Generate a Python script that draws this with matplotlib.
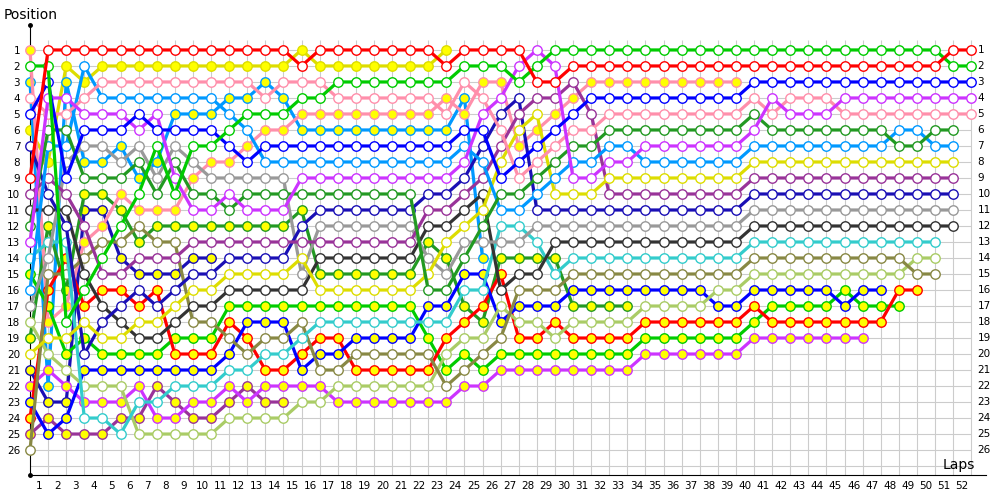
import matplotlib
matplotlib.use("Agg")
import matplotlib.pyplot as plt

# position of each driver after every lap (index 0 = starting grid)
red_w = [9,1,1,1,1,1,1,1,1,1, 1,1,1,1,1,2,1,1,1,1, 1,1,1,2,1,1,1,1,3,3,
         2,2,2,2,2,2,2,2,2,2, 2,2,2,2,2,2,2,2,2,2, 2,1,1]
green_w = [2,2,18,16,14,12,10,7,10,7, 7,6,5,5,5,4,4,3,3,3, 3,3,3,3,2,2,2,3,2,1,
           1,1,1,1,1,1,1,1,1,1, 1,1,1,1,1,1,1,1,1,1, 1,2,2]
blue_w = [5,3,9,6,6,6,5,6,6,6, 6,7,8,7,7,7,7,7,7,7, 7,7,7,7,6,6,9,8,7,6,
          5,4,4,4,4,4,4,4,4,4, 3,3,3,3,3,3,3,3,3,3, 3,3,3]
magenta_w = [13,4,4,5,5,5,6,5,9,11, 11,10,11,11,11,9,9,9,9,9, 9,9,9,9,8,5,4,2,1,2,
             9,9,8,8,7,7,7,7,7,7, 6,4,5,5,5,4,4,4,4,4, 4,4,4]
pink_w = [4,5,5,4,3,3,3,3,3,3, 3,3,3,4,3,3,3,4,4,4, 4,4,4,5,3,4,6,9,8,7,
          6,6,5,5,5,5,5,5,5,5, 4,5,4,4,4,5,5,5,5,5, 5,5,5]
dkgreen_w = [12,6,6,9,9,9,8,10,8,10, 10,11,10,10,10,10,10,10,10,10, 10,10,16,16,14,12,10,10,9,8,
             7,7,6,6,6,6,6,6,6,6, 5,6,6,6,6,6,6,6,7,7, 6,6]
ltblue_w = [16,7,7,2,4,4,4,4,4,4, 4,5,6,8,8,8,8,8,8,8, 8,8,8,8,7,8,11,11,10,9,
            8,8,7,7,8,8,8,8,8,8, 7,7,7,7,7,7,7,7,6,6, 7,7]
yellow_w = [20,19,19,18,19,19,18,18,17,16, 16,15,15,15,15,14,16,16,16,16, 16,16,15,13,12,11,8,6,5,10,
            10,10,9,9,9,9,9,9,9,9, 8,8,8,8,8,8,8,8,8,8, 8,8]
purple_w = [10,9,10,12,15,15,14,14,14,13, 13,13,13,13,13,13,13,13,13,13, 13,13,11,11,10,9,7,5,4,4,
            3,5,10,10,10,10,10,10,10,10, 9,9,9,9,9,9,9,9,9,9, 9,9]
navy_w = [7,10,12,20,18,17,16,17,16,15, 15,14,14,14,14,12,11,11,11,11, 11,11,10,10,9,7,5,4,11,11,
          11,11,11,11,11,11,11,11,11,11, 10,10,10,10,10,10,10,10,10,10, 10,10]
gray_w = [17,14,8,7,7,8,7,9,7,8, 9,9,9,9,9,15,12,12,12,12, 12,12,14,15,13,13,13,13,12,12,
          12,12,12,12,12,12,12,12,12,12, 11,11,11,11,11,11,11,11,11,11, 11,11]
dkgray_w = [11,11,11,15,17,18,19,19,18,17, 17,16,16,16,16,16,14,14,14,14, 14,14,12,12,11,10,16,15,15,13,
            13,13,13,13,13,13,13,13,13,13, 12,12,12,12,12,12,12,12,12,12, 12,12]
cyan_w = [14,13,13,24,24,25,23,23,22,22, 22,21,21,20,20,19,18,18,18,18, 18,18,18,18,16,16,12,12,13,15,
          14,14,14,14,14,14,14,14,14,14, 13,13,13,13,13,13,13,13,13,13, 13]
olive_w = [26,15,15,14,13,13,12,13,13,18, 18,19,20,19,19,18,21,21,20,20, 20,20,20,22,21,20,19,16,16,16,
           15,15,15,15,15,15,15,15,15,15, 14,14,14,14,14,14,14,14,14,15, 15]
ltgreen_w = [18,20,21,22,22,22,25,25,25,25, 25,24,24,24,24,23,23,22,22,22, 22,22,22,20,19,19,17,18,18,19,
             18,18,18,18,17,17,17,17,16,16, 15,15,15,15,15,15,15,15,15,14, 14]
blue_y = [23,25,24,21,21,21,21,21,21,21, 21,20,18,18,18,21,20,20,19,19, 19,19,17,17,15,15,18,17,17,17,
          16,16,16,16,16,16,16,16,17,17, 16,16,16,16,16,17,16,16]
red_y = [24,16,14,17,16,16,17,16,20,20, 20,18,19,21,21,20,19,19,21,21, 21,21,21,19,18,17,15,19,19,18,
         19,19,19,19,18,18,18,18,18,18, 17,18,18,18,18,18,18,18,16,16]
green_y = [15,17,20,19,20,20,20,20,19,19, 19,17,17,17,17,17,17,17,17,17, 17,17,19,21,20,21,20,20,20,20,
           20,20,20,20,19,19,19,19,19,19, 18,17,17,17,17,16,17,17,17]
magenta_y = [22,21,22,23,23,23,22,24,24,23, 23,22,23,22,22,22,22,23,23,23, 23,23,23,23,22,22,21,21,21,21,
             21,21,21,21,20,20,20,20,20,20, 19,19,19,19,19,19,19]
pink_y = [1,18,17,13,12,10,11,11,11,9, 8,8,7,6,6,5,5,5,5,5, 5,5,5,4,5,3,3,7,6,5,
          4,3,3,3,3,3,3,3,3,3]
dkgreen_y = [19,12,16,10,10,11,13,12,12,12, 12,12,12,12,12,11,15,15,15,15, 15,15,13,14,17,18,14,14,14,14,
             17,17,17,17]
ltblue_y = [3,22,3,8,8,7,9,8,5,5, 5,4,4,3,4,6,6,6,6,6, 6,6,6,6,4,14]
yellow_y = [6,8,2,3,2,2,2,2,2,2, 2,2,2,2,2,1,2,2,2,2, 2,2,2,1]
purple_y = [25,24,25,25,25,24,24,22,23,24, 24,23,22,23,23]
navy_y = [21,23,23,11,11,14,15,15,15,14, 14]

drivers = [
    (navy_y, "#1a0fb5", "#ffff00"),
    (purple_y, "#993399", "#ffff00"),
    (yellow_y, "#dddd00", "#ffff00"),
    (ltblue_y, "#0099ff", "#ffff00"),
    (dkgreen_y, "#229922", "#ffff00"),
    (pink_y, "#ff8fab", "#ffff00"),
    (magenta_y, "#cc33ff", "#ffff00"),
    (green_y, "#00cc00", "#ffff00"),
    (red_y, "#ff0000", "#ffff00"),
    (blue_y, "#0000ff", "#ffff00"),
    (ltgreen_w, "#aacc66", "white"),
    (olive_w, "#888844", "white"),
    (cyan_w, "#33cccc", "white"),
    (dkgray_w, "#333333", "white"),
    (gray_w, "#999999", "white"),
    (navy_w, "#1a0fb5", "white"),
    (purple_w, "#993399", "white"),
    (yellow_w, "#dddd00", "white"),
    (ltblue_w, "#0099ff", "white"),
    (dkgreen_w, "#229922", "white"),
    (pink_w, "#ff8fab", "white"),
    (magenta_w, "#cc33ff", "white"),
    (blue_w, "#0000ff", "white"),
    (green_w, "#00cc00", "white"),
    (red_w, "#ff0000", "white"),
]

n_laps = 52
n_pos = 26
lap_labels = [str(i) for i in range(1, n_laps + 1)]
pos_labels = [str(i) for i in range(1, n_pos + 1)]

fig = plt.figure(figsize=(10, 5), dpi=100)
ax = fig.add_axes([0.03, 0.05, 0.9557, 0.9])
ax.set_xlim(0, 52.8)
ax.set_ylim(27.56, -0.56)

# grid
ax.hlines(range(1, n_pos + 2), 0, n_laps, color="#cccccc", lw=0.8, zorder=0)
ax.vlines(range(1, n_laps + 1), 0.4, 27.56, color="#cccccc", lw=0.8, zorder=0)

for pos, col, face in drivers:
    ax.plot(range(len(pos)), pos, color=col, lw=2.3, marker="o", ms=6.8,
            mfc=face, mec=col, mew=1.0, clip_on=False, zorder=3)

for s in ["top", "right"]:
    ax.spines[s].set_visible(False)
ax.spines["left"].set_color("black")
ax.spines["bottom"].set_color("black")
ax.plot([0], [-0.56], "ko", ms=2.5, clip_on=False)
ax.plot([0], [27.56], "ko", ms=2.5, clip_on=False)

ax.set_yticks(range(1, n_pos + 1))
ax.set_yticklabels(pos_labels, fontsize=7.5)
ax.tick_params(axis="y", length=0, pad=7)
ax.set_xticks([i - 0.5 for i in range(1, n_laps + 1)])
ax.set_xticklabels(lap_labels, fontsize=7.5)
ax.tick_params(axis="x", length=0, pad=4)

for i, lab in enumerate(pos_labels):
    ax.text(52.35, i + 1, lab, fontsize=7.5, va="center", ha="left")

fig.text(0.004, 0.97, "Position", fontsize=10, va="center", ha="left")
fig.text(0.943, 0.07, "Laps", fontsize=10, va="center", ha="left")

fig.savefig("out.png", dpi=100)
